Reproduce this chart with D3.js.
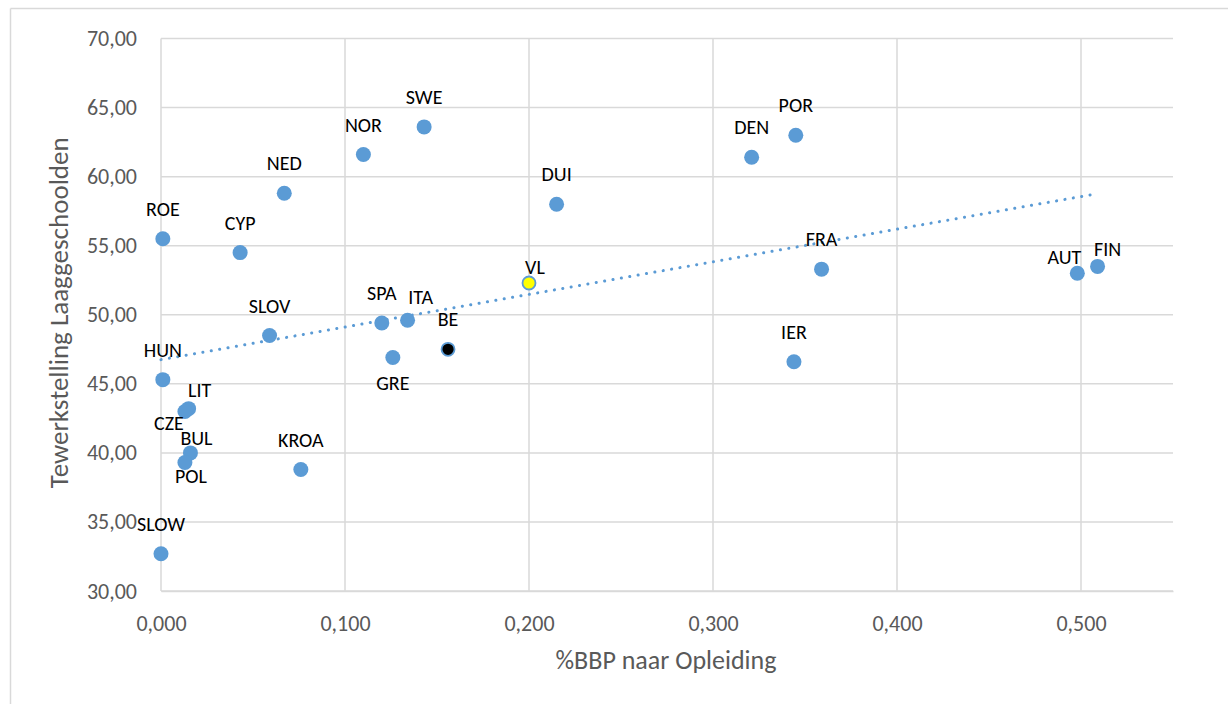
<!DOCTYPE html>
<html>
<head>
<meta charset="utf-8">
<script src="https://cdn.jsdelivr.net/npm/d3@7"></script>
<style>
  html, body { margin: 0; padding: 0; background: #fff; }
  svg { display: block; }
  text { font-family: Calibri, Carlito, Lato, "Open Sans", sans-serif; }
</style>
</head>
<body>
<svg id="chart" width="1228" height="704"></svg>
<script>
// ---- data ----
const countries = ["ROE","CYP","NED","NOR","SWE","DUI","DEN","POR","FRA","IER","AUT","FIN","VL","BE","SPA","ITA","GRE","SLOV","HUN","LIT","CZE","BUL","POL","KROA","SLOW"];
const bbpOpleiding = [0.001,0.043,0.067,0.110,0.143,0.215,0.321,0.345,0.359,0.344,0.498,0.509,0.200,0.156,0.120,0.134,0.126,0.059,0.001,0.015,0.013,0.016,0.013,0.076,0.000];
const tewerkstelling = [55.5,54.5,58.8,61.6,63.6,58.0,61.4,63.0,53.3,46.6,53.0,53.5,52.3,47.5,49.4,49.6,46.9,48.5,45.3,43.2,43.0,40.0,39.3,38.8,32.7];
const trendX = [0.000, 0.506];
const trendY = [46.75, 58.7];
const xTicks = [0, 0.1, 0.2, 0.3, 0.4, 0.5];
const yTicks = [30, 35, 40, 45, 50, 55, 60, 65, 70];
const xTitle = "%BBP naar Opleiding";
const yTitle = "Tewerkstelling Laaggeschoolden";

// label placement (offset of label centre from the marker)
const labelOffset = {
  AUT: [-13, -17], FIN: [10, -18], VL: [6, -16], ITA: [13, -23], GRE: [0, 25],
  LIT: [11, -19], CZE: [-16, 11], BUL: [6, -15], POL: [6, 13]
};
const specialFill = { VL: "#FFFF00", BE: "#000000" };

(function () {
// ---- layout ----
const svg = d3.select("#chart");
const pLeft = 161, pRight = 1173, pTop = 38.5, pBottom = 591;
const x = d3.scaleLinear().domain([0, 0.55]).range([pLeft, pRight]);
const y = d3.scaleLinear().domain([30, 70]).range([pBottom, pTop]);
const fmtX = v => d3.format(".3f")(v).replace(".", ",");
const fmtY = v => d3.format(".2f")(v).replace(".", ",");

// chart border (top & left visible)
svg.append("line").attr("x1", 10.5).attr("x2", 1228).attr("y1", 8.5).attr("y2", 8.5)
  .attr("stroke", "#D9D9D9").attr("stroke-width", 1.5);
svg.append("line").attr("x1", 10.5).attr("x2", 10.5).attr("y1", 8.5).attr("y2", 704)
  .attr("stroke", "#D9D9D9").attr("stroke-width", 1.5);

// gridlines
const grid = svg.append("g");
grid.selectAll(".hg").data(yTicks).join("line")
  .attr("x1", pLeft).attr("x2", pRight)
  .attr("y1", d => y(d)).attr("y2", d => y(d))
  .attr("stroke", "#D9D9D9").attr("stroke-width", 1.5);
grid.selectAll(".vg").data(xTicks).join("line")
  .attr("x1", d => x(d)).attr("x2", d => x(d))
  .attr("y1", pTop).attr("y2", pBottom)
  .attr("stroke", "#D9D9D9").attr("stroke-width", 1.5);

// axes (labels only, using d3 axes)
const xAxis = svg.append("g").attr("transform", `translate(0,${pBottom})`)
  .call(d3.axisBottom(x).tickValues(xTicks).tickFormat(fmtX).tickSize(0).tickPadding(24));
xAxis.select(".domain").attr("stroke", "#D9D9D9").attr("stroke-width", 1.5);
xAxis.selectAll("text").attr("font-size", 22).attr("fill", "#595959");

const yAxis = svg.append("g").attr("transform", `translate(${pLeft},0)`)
  .call(d3.axisLeft(y).tickValues(yTicks).tickFormat(fmtY).tickSize(0).tickPadding(24));
yAxis.select(".domain").remove();
yAxis.selectAll("text").attr("font-size", 22).attr("fill", "#595959");

// axis titles
svg.append("text").attr("x", (553 + 779) / 2).attr("y", 669)
  .attr("text-anchor", "middle").attr("font-size", 26).attr("fill", "#595959").text(xTitle);
svg.append("text").attr("transform", `translate(68,${(pTop + pBottom) / 2 - 2}) rotate(-90)`)
  .attr("text-anchor", "middle").attr("font-size", 27).attr("fill", "#595959").text(yTitle);

// trendline
svg.append("line")
  .attr("x1", x(trendX[0])).attr("y1", y(trendY[0]))
  .attr("x2", x(trendX[1])).attr("y2", y(trendY[1]))
  .attr("stroke", "#5B9BD5").attr("stroke-width", 3)
  .attr("stroke-linecap", "round").attr("stroke-dasharray", "0.1 8.4");

// points
const pts = countries.map((c, i) => ({ c, xv: bbpOpleiding[i], yv: tewerkstelling[i] }));
svg.append("g").selectAll("circle").data(pts).join("circle")
  .attr("cx", d => x(d.xv)).attr("cy", d => y(d.yv))
  .attr("r", d => specialFill[d.c] ? 6.5 : 7.5)
  .attr("fill", d => specialFill[d.c] || "#5B9BD5")
  .attr("stroke", d => specialFill[d.c] ? "#5B9BD5" : "none")
  .attr("stroke-width", 1.8);

// labels
svg.append("g").selectAll("text").data(pts).join("text")
  .attr("x", d => x(d.xv) + (labelOffset[d.c] ? labelOffset[d.c][0] : 0))
  .attr("y", d => y(d.yv) + (labelOffset[d.c] ? labelOffset[d.c][1] : -30))
  .attr("dy", "0.36em")
  .attr("text-anchor", "middle").attr("font-size", 20).attr("fill", "#000")
  .text(d => d.c);
})();
</script>
</body>
</html>
